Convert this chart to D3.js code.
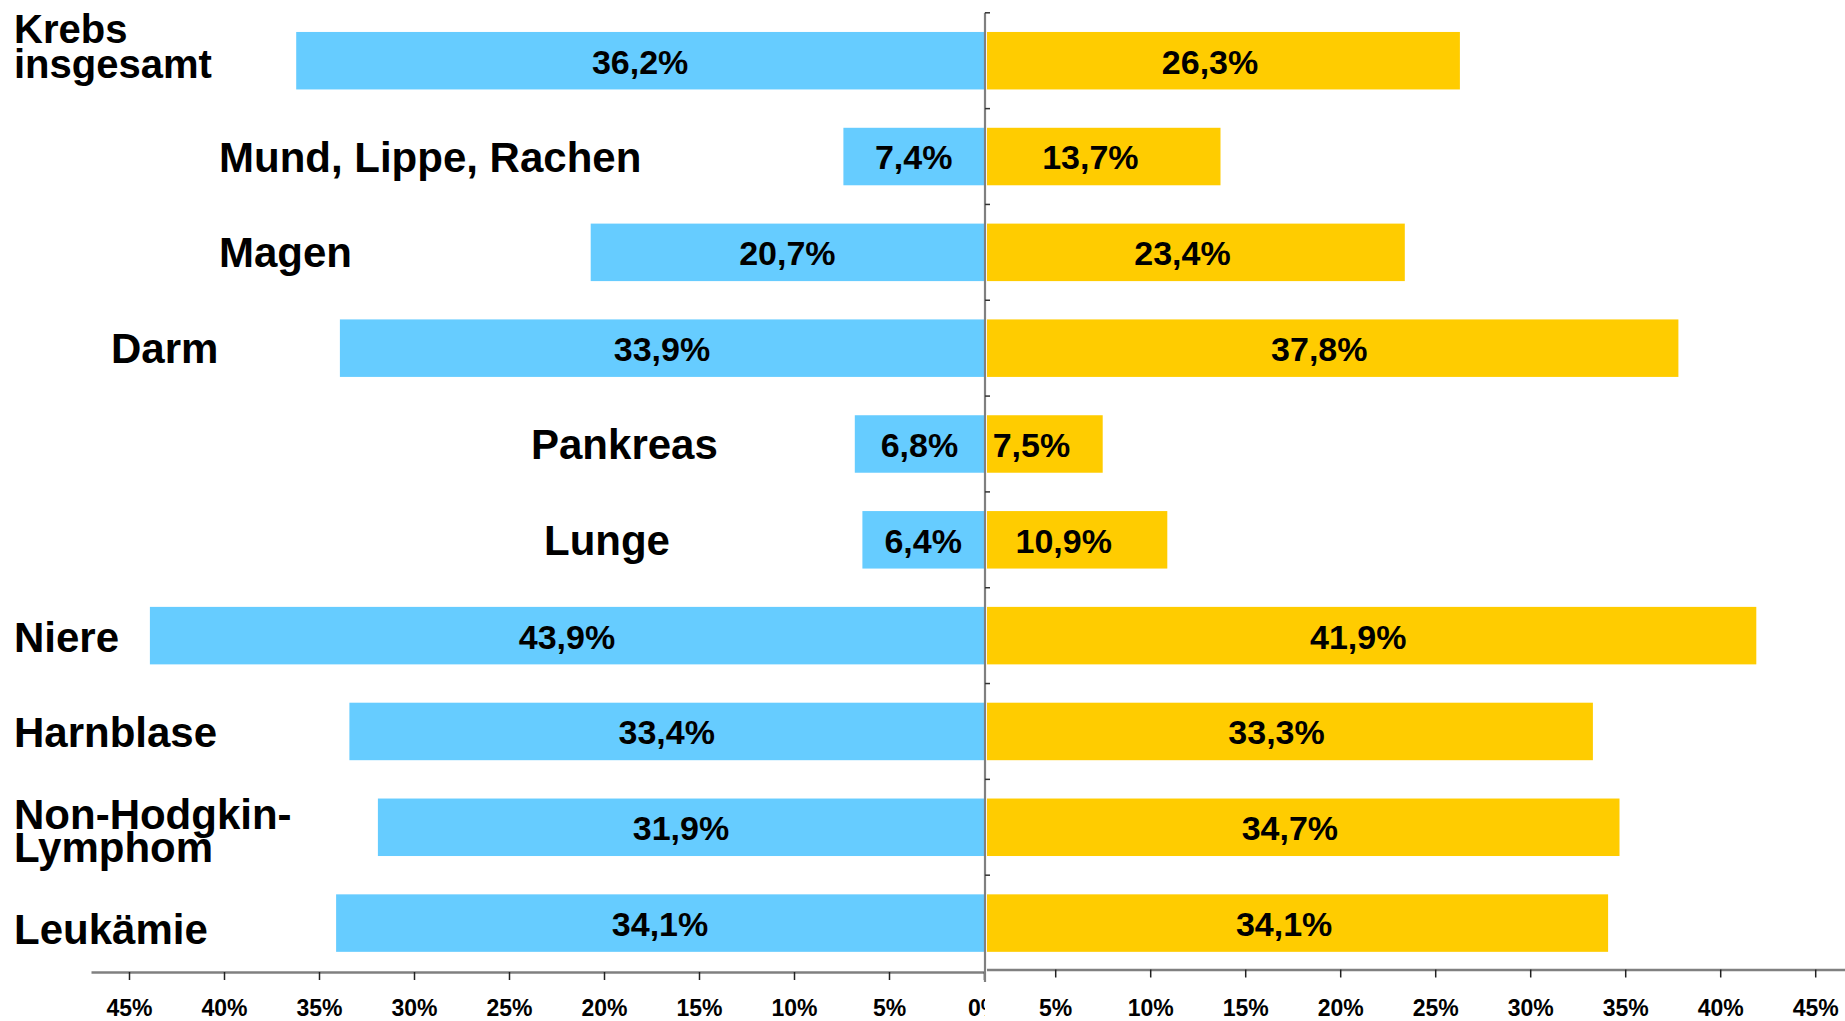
<!DOCTYPE html>
<html>
<head>
<meta charset="utf-8">
<script src="https://cdn.jsdelivr.net/npm/d3@7"></script>
<style>
  body { margin: 0; background: #fff; }
  svg text { font-family: "Liberation Sans", Arial, sans-serif; font-weight: bold; fill: #000; }
</style>
</head>
<body>
<div id="chart"></div>
<script>
// categories top to bottom, "\n" marks a line break in the label
const categories = [
  "Krebs\ninsgesamt",
  "Mund, Lippe, Rachen",
  "Magen",
  "Darm",
  "Pankreas",
  "Lunge",
  "Niere",
  "Harnblase",
  "Non-Hodgkin-\nLymphom",
  "Leukämie"
];
// left (blue) and right (yellow) series, in %
const leftValues = [36.2, 7.4, 20.7, 33.9, 6.8, 6.4, 43.9, 33.4, 31.9, 34.1];
const rightValues = [26.3, 13.7, 23.4, 37.8, 7.5, 10.9, 41.9, 33.3, 34.7, 34.1];
const leftTicks = [0, 5, 10, 15, 20, 25, 30, 35, 40, 45];
const rightTicks = [5, 10, 15, 20, 25, 30, 35, 40, 45];

// label placement (layout only): x of text start, baseline offset from band centre
const labelLayout = {
  "Krebs\ninsgesamt": { x: 14, dy: -18, size: 40, lh: 35.6 },
  "Mund, Lippe, Rachen": { x: 219, dy: 15 },
  "Magen": { x: 219, dy: 15 },
  "Darm": { x: 111, dy: 15 },
  "Pankreas": { x: 531, dy: 15 },
  "Lunge": { x: 544, dy: 15 },
  "Niere": { x: 14, dy: 16 },
  "Harnblase": { x: 14, dy: 16 },
  "Non-Hodgkin-\nLymphom": { x: 14, dy: 2, lh: 33 },
  "Leukämie": { x: 14, dy: 21 }
};

const drawChart = () => {
  const width = 1845;
  const height = 1021;
  const zeroLeft = 984;
  const zeroRight = 960.2;
  const pxPerPct = 19.0;

  const de = d3.formatLocale({ decimal: ",", thousands: ".", grouping: [3], currency: ["", " €"] });
  const fmt = de.format(".1f");

  const svg = d3
    .select("#chart")
    .append("svg")
    .attr("width", width)
    .attr("height", height);

  const defs = svg.append("defs");
  defs.append("clipPath").attr("id", "clipLeft")
    .append("rect").attr("x", 0).attr("y", 0).attr("width", 985).attr("height", height);
  defs.append("clipPath").attr("id", "clipRight")
    .append("rect").attr("x", 987).attr("y", 0).attr("width", width - 987).attr("height", height);

  const xLeft = d3.scaleLinear().domain([0, 47]).range([zeroLeft, zeroLeft - 47 * pxPerPct]);
  const xRight = d3.scaleLinear().domain([0, 47]).range([zeroRight, zeroRight + 47 * pxPerPct]);

  const y = d3
    .scaleBand()
    .domain(categories)
    .range([12.8, 971])
    .paddingInner(0.4)
    .paddingOuter(0.2);

  const rows = categories.map((c, i) => ({ cat: c, left: leftValues[i], right: rightValues[i] }));

  // bars
  const leftG = svg.append("g").attr("clip-path", "url(#clipLeft)");
  leftG
    .selectAll("rect")
    .data(rows)
    .enter()
    .append("rect")
    .attr("x", (d) => xLeft(d.left))
    .attr("y", (d) => y(d.cat))
    .attr("width", (d) => xLeft(0) - xLeft(d.left))
    .attr("height", y.bandwidth())
    .attr("fill", "#66CCFF");

  const rightG = svg.append("g").attr("clip-path", "url(#clipRight)");
  rightG
    .selectAll("rect")
    .data(rows)
    .enter()
    .append("rect")
    .attr("x", xRight(0))
    .attr("y", (d) => y(d.cat))
    .attr("width", (d) => xRight(d.right) - xRight(0))
    .attr("height", y.bandwidth())
    .attr("fill", "#FFCC00");

  // axes
  const axisLeft = svg
    .append("g")
    .attr("clip-path", "url(#clipLeft)")
    .append("g")
    .attr("transform", "translate(0,972)")
    .call(
      d3.axisBottom(xLeft).tickValues(leftTicks).tickSize(8).tickSizeOuter(0).tickPadding(20)
        .tickFormat((d) => d + "%")
    );

  const axisRight = svg
    .append("g")
    .attr("clip-path", "url(#clipRight)")
    .append("g")
    .attr("transform", "translate(0,969.5)")
    .call(
      d3.axisBottom(xRight).tickValues(rightTicks).tickSize(8).tickSizeOuter(0).tickPadding(22)
        .tickFormat((d) => d + "%")
    );

  [axisLeft, axisRight].forEach((a) => {
    a.select(".domain").attr("stroke", "#808080").attr("stroke-width", 2.5);
    a.selectAll(".tick line").attr("stroke", "#222").attr("stroke-width", 1.5);
    a.selectAll(".tick text")
      .attr("font-size", 23)
      .attr("font-family", '"Liberation Sans", Arial, sans-serif')
      .attr("font-weight", "bold")
      .attr("fill", "#000");
  });

  // vertical centre axis with small ticks at the category borders
  const gap = (y.step() - y.bandwidth()) / 2;
  svg.append("line")
    .attr("x1", 985).attr("x2", 985)
    .attr("y1", y(categories[0]) - gap)
    .attr("y2", 982)
    .attr("stroke", "#808080")
    .attr("stroke-width", 2.2);

  svg.selectAll(".vtick")
    .data(categories)
    .enter()
    .append("line")
    .attr("class", "vtick")
    .attr("x1", 985).attr("x2", 990)
    .attr("y1", (d) => y(d) - gap)
    .attr("y2", (d) => y(d) - gap)
    .attr("stroke", "#333")
    .attr("stroke-width", 1.5);

  // value labels
  svg.selectAll(".lval")
    .data(rows)
    .enter()
    .append("text")
    .attr("class", "lval")
    .attr("x", (d) => (xLeft(0) + xLeft(d.left)) / 2)
    .attr("y", (d) => y(d.cat) + y.bandwidth() / 2)
    .attr("dy", "0.38em")
    .attr("text-anchor", "middle")
    .attr("font-size", 34)
    .text((d) => fmt(d.left) + "%");

  svg.selectAll(".rval")
    .data(rows)
    .enter()
    .append("text")
    .attr("class", "rval")
    .attr("x", (d) => (xRight(0) + xRight(d.right)) / 2)
    .attr("y", (d) => y(d.cat) + y.bandwidth() / 2)
    .attr("dy", "0.38em")
    .attr("text-anchor", "middle")
    .attr("font-size", 34)
    .text((d) => fmt(d.right) + "%");

  // category labels
  const labels = svg.selectAll(".cat")
    .data(categories)
    .enter()
    .append("text")
    .attr("class", "cat")
    .attr("font-size", (d) => labelLayout[d].size || 42)
    .attr("y", (d) => y(d) + y.bandwidth() / 2 + labelLayout[d].dy);

  labels.each(function (d) {
    const lay = labelLayout[d];
    d3.select(this)
      .selectAll("tspan")
      .data(d.split("\n"))
      .enter()
      .append("tspan")
      .attr("x", lay.x)
      .attr("dy", (t, i) => (i === 0 ? 0 : lay.lh))
      .text((t) => t);
  });
};

drawChart();
</script>
</body>
</html>
